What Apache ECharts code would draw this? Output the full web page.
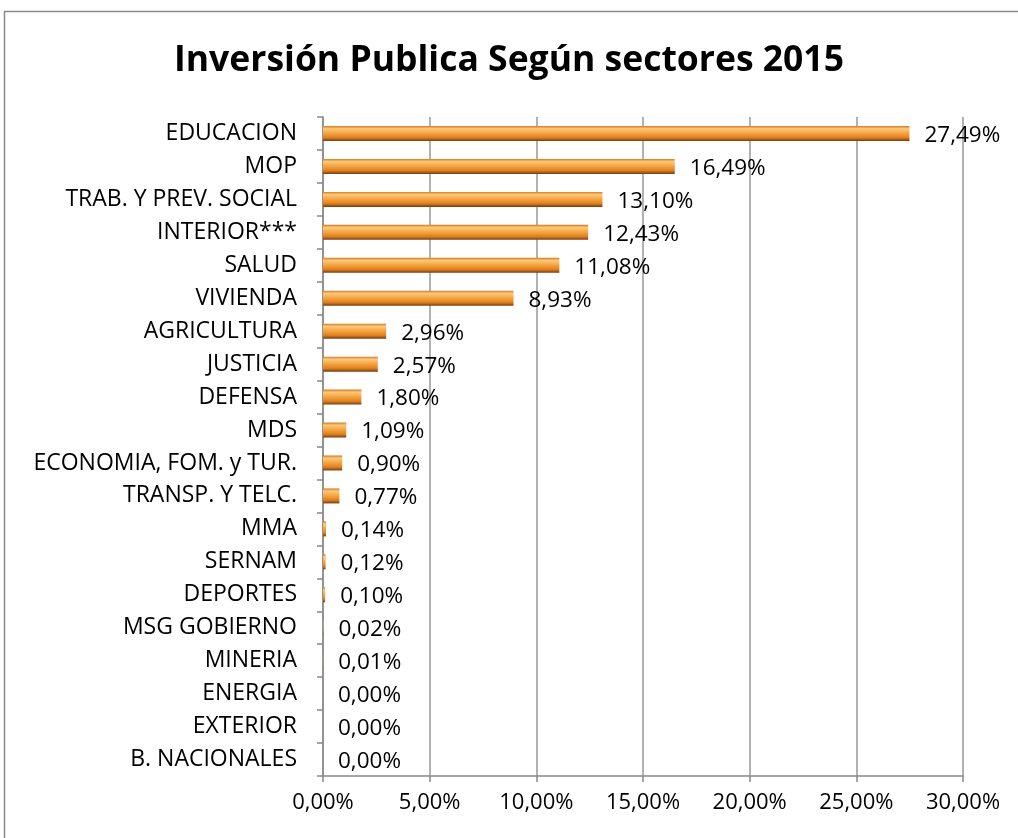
<!DOCTYPE html>
<html>
<head>
<meta charset="utf-8">
<script src="https://cdn.jsdelivr.net/npm/echarts@6/dist/echarts.min.js"></script>
<style>
  html, body { margin: 0; padding: 0; background: #fff; }
  #chart { width: 1018px; height: 838px; }
</style>
</head>
<body>
<div id="chart"></div>
<script>
// sectores y porcentajes (de arriba hacia abajo)
const sectores = [
  "EDUCACION", "MOP", "TRAB. Y PREV. SOCIAL", "INTERIOR***", "SALUD",
  "VIVIENDA", "AGRICULTURA", "JUSTICIA", "DEFENSA", "MDS",
  "ECONOMIA, FOM. y TUR.", "TRANSP. Y TELC.", "MMA", "SERNAM", "DEPORTES",
  "MSG GOBIERNO", "MINERIA", "ENERGIA", "EXTERIOR", "B. NACIONALES"
];
const porcentajes = [
  27.49, 16.49, 13.10, 12.43, 11.08,
  8.93, 2.96, 2.57, 1.80, 1.09,
  0.90, 0.77, 0.14, 0.12, 0.10,
  0.02, 0.01, 0.00, 0.00, 0.00
];
const ticksX = [0, 5, 10, 15, 20, 25, 30];

const fmt = (v) => v.toFixed(2).replace(".", ",") + "%";
const fuente = "'Open Sans', 'Noto Sans', sans-serif";

const chart = echarts.init(document.getElementById("chart"));

// relleno tipo bisel naranja
const relleno = new echarts.graphic.LinearGradient(0, 0, 0, 1, [
  { offset: 0, color: "#D9781C" },
  { offset: 0.18, color: "#FBC97C" },
  { offset: 0.5, color: "#F5A23C" },
  { offset: 0.78, color: "#DD8024" },
  { offset: 1, color: "#7A3D0C" }
]);

chart.setOption({
  backgroundColor: "#fff",
  title: {
    text: "Inversión Publica Según sectores 2015",
    left: "center",
    top: 38,
    textStyle: { fontFamily: fuente, fontWeight: "bold", fontSize: 35.5, color: "#000" }
  },
  graphic: [{
    type: "rect",
    shape: { x: 4.5, y: 11.5, width: 1100, height: 900 },
    style: { fill: "none", stroke: "#8a8a8a", lineWidth: 1.5 },
    silent: true
  }],
  grid: { left: 323, right: 55, top: 117, bottom: 62 },
  xAxis: {
    type: "value",
    min: ticksX[0],
    max: ticksX[ticksX.length - 1],
    interval: ticksX[1] - ticksX[0],
    axisLine: { show: true, lineStyle: { color: "#888", width: 1.5 } },
    axisTick: { show: true, length: 6, lineStyle: { color: "#888", width: 1.5 } },
    axisLabel: {
      formatter: fmt, margin: 16, color: "#000",
      fontFamily: fuente, fontSize: 22
    },
    splitLine: { show: true, lineStyle: { color: "#999", width: 1.5 } }
  },
  yAxis: {
    type: "category",
    data: sectores,
    inverse: true,
    axisLine: { show: true, lineStyle: { color: "#888", width: 1.5 } },
    axisTick: { show: true, length: 6, lineStyle: { color: "#888", width: 1.5 } },
    axisLabel: { color: "#000", fontFamily: fuente, fontSize: 23, margin: 26 }
  },
  series: [{
    type: "bar",
    data: porcentajes,
    barWidth: 15,
    itemStyle: { color: relleno },
    label: {
      show: true,
      position: "right",
      distance: 15,
      formatter: (p) => fmt(p.value),
      color: "#000",
      fontFamily: fuente,
      fontSize: 22.5,
      offset: [0, 2]
    },
    animation: false
  }],
  animation: false
});
</script>
</body>
</html>
